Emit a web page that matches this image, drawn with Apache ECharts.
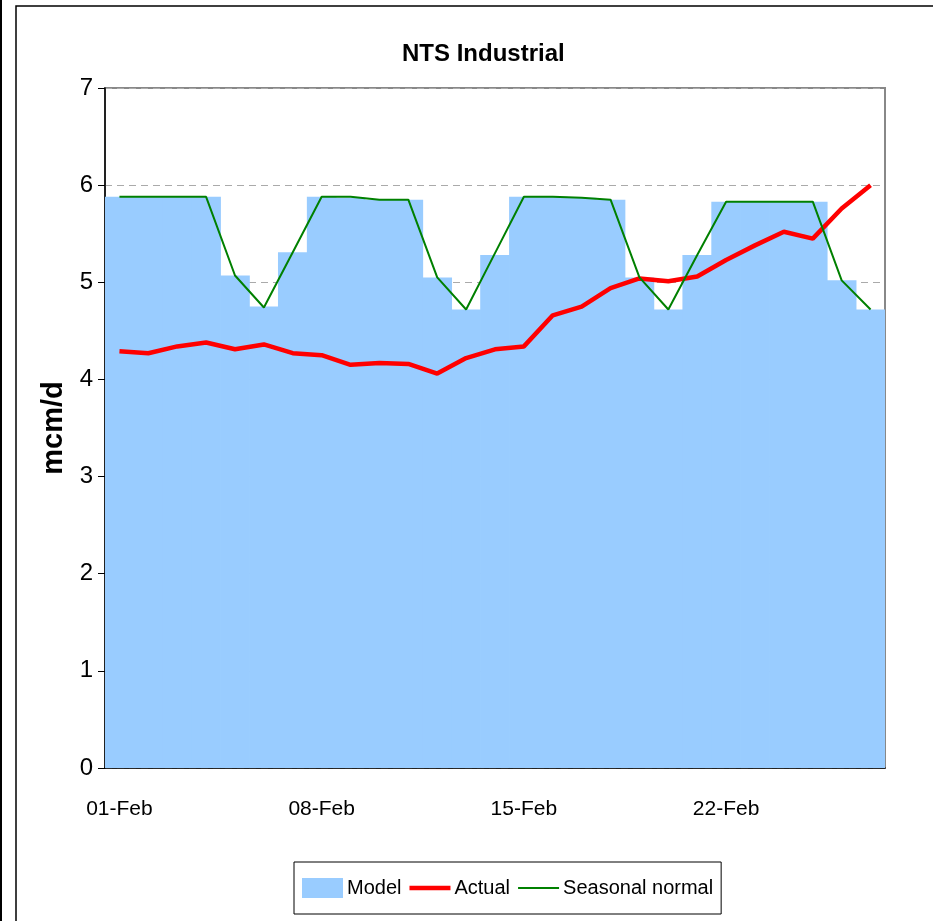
<!DOCTYPE html>
<html>
<head>
<meta charset="utf-8">
<script src="https://cdn.jsdelivr.net/npm/echarts@6/dist/echarts.min.js"></script>
<style>
html,body{margin:0;padding:0;background:#fff;}
#main{width:933px;height:921px;}
</style>
</head>
<body>
<div id="main"></div>
<script>
var days = ['01-Feb','02-Feb','03-Feb','04-Feb','05-Feb','06-Feb','07-Feb','08-Feb','09-Feb','10-Feb','11-Feb','12-Feb','13-Feb','14-Feb','15-Feb','16-Feb','17-Feb','18-Feb','19-Feb','20-Feb','21-Feb','22-Feb','23-Feb','24-Feb','25-Feb','26-Feb','27-Feb'];
var model = [5.88,5.88,5.88,5.88,5.07,4.75,5.31,5.88,5.87,5.85,5.85,5.05,4.72,5.28,5.88,5.88,5.87,5.85,5.05,4.72,5.28,5.83,5.83,5.83,5.83,5.02,4.72];
var actual = [4.29,4.27,4.34,4.38,4.31,4.36,4.27,4.25,4.15,4.17,4.16,4.06,4.22,4.31,4.34,4.66,4.75,4.94,5.04,5.01,5.06,5.23,5.38,5.52,5.45,5.76,6.00];
var seasonal = [5.88,5.88,5.88,5.88,5.07,4.74,5.31,5.88,5.88,5.85,5.85,5.05,4.72,5.30,5.88,5.88,5.87,5.85,5.05,4.72,5.28,5.83,5.83,5.83,5.83,5.02,4.72];
var yTicks = [0,1,2,3,4,5,6,7];

var font = "'Liberation Sans', Arial, sans-serif";
var chart = echarts.init(document.getElementById('main'), null, {renderer:'canvas'});
chart.setOption({
  animation: false,
  backgroundColor: '#fff',
  textStyle: {fontFamily: font, color: '#000'},
  title: {
    text: 'NTS Industrial',
    left: 397, top: 37,
    textStyle: {fontFamily: font, fontWeight: 'bold', fontSize: 24, color: '#000'}
  },
  graphic: [
    {type:'rect', shape:{x:16, y:6, width:1000, height:1000}, style:{fill:'none', stroke:'#000', lineWidth:1.5}, silent:true, z:-10},
    {type:'line', shape:{x1:1, y1:0, x2:1, y2:921}, style:{stroke:'#000', lineWidth:2}, silent:true}
  ],
  legend: {
    left: 294, top: 862,
    padding: [16, 8, 16, 8],
    borderColor: '#000', borderWidth: 1,
    itemWidth: 41, itemHeight: 20, itemGap: 8,
    textStyle: {fontFamily: font, fontSize: 20, color: '#000', padding: [0, 0, 0, -1]},
    data: [
      {name:'Model', icon:'rect'},
      {name:'Actual', icon:'path://M0,0 H40 V4.5 H0 Z'},
      {name:'Seasonal normal', icon:'path://M0,0 H40 V2 H0 Z'}
    ]
  },
  grid: {
    left: 105, right: 48, top: 88, bottom: 153,
    show: true, borderColor: '#888', borderWidth: 2, backgroundColor: 'transparent'
  },
  xAxis: {
    type: 'category',
    data: days,
    boundaryGap: true,
    axisLine: {lineStyle:{color:'#000', width:1.5}},
    axisTick: {interval: 6, length: 8, lineStyle:{color:'#000'}},
    axisLabel: {interval: 6, margin: 31, fontSize: 21, color:'#000'},
    splitLine: {show:false}
  },
  yAxis: {
    type: 'value',
    min: yTicks[0], max: yTicks[yTicks.length-1], interval: 1,
    name: 'mcm/d', nameLocation: 'middle', nameRotate: 90, nameGap: 30,
    nameTextStyle: {fontWeight:'bold', fontSize: 29, color:'#000'},
    axisLine: {show:true, lineStyle:{color:'#000', width:1.5}},
    axisTick: {show:true, length: 7, lineStyle:{color:'#000'}},
    axisLabel: {margin: 12, fontSize: 24, color:'#000'},
    splitLine: {show:true, lineStyle:{color:'#aaa', type:[7,5], width:1}}
  },
  series: [
    {name:'Model', type:'bar', data: model, barWidth: 29.6, barGap:'-100%', itemStyle:{color:'#99CCFF'}},
    {name:'Actual', type:'line', data: actual, symbol:'none', lineStyle:{color:'#FF0000', width:4.5}, itemStyle:{color:'#FF0000'}},
    {name:'Seasonal normal', type:'line', data: seasonal, symbol:'none', lineStyle:{color:'#008000', width:2}, itemStyle:{color:'#008000'}}
  ]
});
</script>
</body>
</html>
